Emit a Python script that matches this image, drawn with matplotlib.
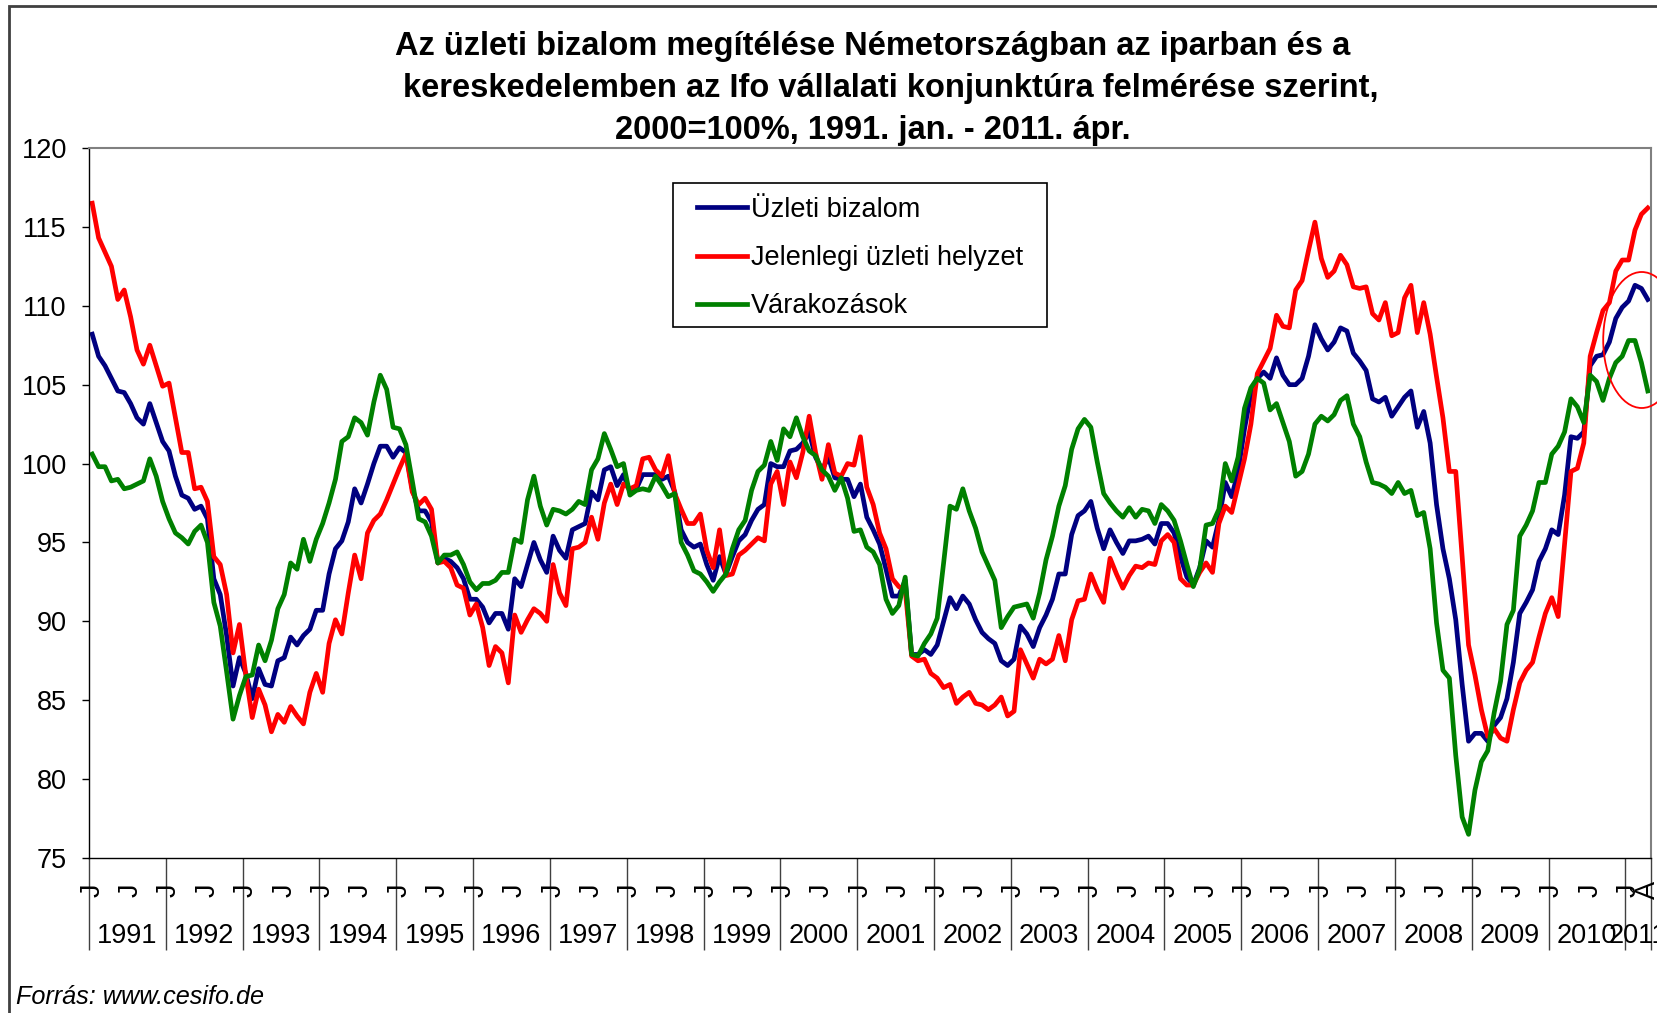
import numpy as np
import matplotlib
matplotlib.use('Agg')
import matplotlib.pyplot as plt
from matplotlib.patches import Ellipse, Rectangle
from matplotlib.transforms import blended_transform_factory

# ---------------- data (monthly, 1991 Jan - 2011 Apr) ----------------
evek = list(range(1991, 2012))
honap_betuk = ['J', '', '', '', '', '', 'J', '', '', '', '', '']  # Jan, Jul labels
utolso_honap_betu = 'Á'  # label of last month (April 2011)

uzleti_bizalom = [
    108.2, 106.8, 106.2, 105.4, 104.6, 104.5, 103.8, 102.9, 102.5, 103.8, 102.6, 101.4,
    100.8, 99.2, 98.0, 97.8, 97.1, 97.3, 96.5, 92.7, 91.7, 89.1, 85.9, 87.7,
    86.7, 85.1, 87.0, 86.0, 85.9, 87.5, 87.7, 89.0, 88.5, 89.1, 89.5, 90.7,
    90.7, 93.0, 94.6, 95.1, 96.3, 98.4, 97.5, 98.7, 100.0, 101.1, 101.1, 100.4,
    101.0, 100.7, 98.4, 97.0, 97.0, 96.3, 93.7, 94.0, 93.8, 93.4, 92.7, 91.4,
    91.4, 90.9, 89.9, 90.5, 90.5, 89.5, 92.7, 92.2, 93.6, 95.0, 93.9, 93.1,
    95.4, 94.5, 94.0, 95.8, 96.0, 96.2, 98.2, 97.7, 99.6, 99.8, 98.6, 99.3,
    98.2, 98.4, 99.3, 99.3, 99.3, 99.0, 99.2, 98.2, 95.8, 95.0, 94.7, 94.9,
    93.6, 92.6, 94.1, 93.0, 94.1, 95.1, 95.5, 96.4, 97.1, 97.4, 100.0, 99.8,
    99.8, 100.8, 100.9, 101.3, 102.0, 100.4, 99.6, 100.4, 99.1, 99.0, 99.0, 97.9,
    98.7, 96.6, 95.8, 94.9, 93.3, 91.6, 91.6, 92.6, 87.9, 87.9, 88.2, 87.9,
    88.5, 90.0, 91.5, 90.8, 91.6, 91.1, 90.1, 89.3, 88.9, 88.6, 87.5, 87.2,
    87.6, 89.7, 89.2, 88.4, 89.6, 90.4, 91.4, 93.0, 93.0, 95.5, 96.7, 97.0,
    97.6, 95.9, 94.6, 95.8, 95.0, 94.3, 95.1, 95.1, 95.2, 95.4, 94.9, 96.2,
    96.2, 95.6, 94.1, 92.8, 92.3, 93.4, 95.1, 94.7, 96.4, 98.8, 97.9, 99.5,
    102.2, 104.4, 105.4, 105.8, 105.4, 106.7, 105.6, 105.0, 105.0, 105.4, 106.8, 108.8,
    107.9, 107.2, 107.7, 108.6, 108.4, 107.0, 106.5, 105.9, 104.1, 103.9, 104.2, 103.0,
    103.6, 104.2, 104.6, 102.3, 103.3, 101.3, 97.4, 94.6, 92.7, 90.1, 86.0, 82.4,
    82.9, 82.9, 82.4, 83.4, 83.9, 85.1, 87.4, 90.5, 91.2, 92.0, 93.8, 94.6,
    95.8, 95.5, 98.0, 101.7, 101.6, 102.0, 106.2, 106.8, 106.9, 107.7, 109.2, 109.9,
    110.3, 111.3, 111.1, 110.4,
]

jelenlegi_helyzet = [
    116.5, 114.3, 113.4, 112.5, 110.4, 111.0, 109.3, 107.2, 106.3, 107.5, 106.2, 104.9,
    105.1, 102.9, 100.7, 100.7, 98.4, 98.5, 97.6, 94.1, 93.6, 91.7, 88.0, 89.8,
    86.6, 83.9, 85.7, 84.7, 83.0, 84.1, 83.6, 84.6, 84.0, 83.5, 85.5, 86.7,
    85.5, 88.6, 90.1, 89.2, 91.8, 94.2, 92.7, 95.6, 96.4, 96.8, 97.7, 98.7,
    99.7, 100.6, 98.2, 97.4, 97.8, 97.1, 93.7, 93.8, 93.4, 92.3, 92.1, 90.4,
    91.1, 89.6, 87.2, 88.4, 88.0, 86.1, 90.4, 89.3, 90.1, 90.8, 90.5, 90.0,
    93.6, 91.8, 91.0, 94.6, 94.7, 95.0, 96.6, 95.2, 97.5, 98.7, 97.4, 98.7,
    98.4, 98.6, 100.3, 100.4, 99.6, 99.2, 100.5, 98.1, 97.1, 96.2, 96.2, 96.8,
    94.5, 93.4, 95.8, 92.9, 93.0, 94.2, 94.5, 94.9, 95.3, 95.1, 98.7, 99.5,
    97.4, 100.1, 99.1, 100.7, 103.0, 100.7, 99.0, 101.2, 99.4, 99.2, 100.0, 99.9,
    101.7, 98.5, 97.4, 95.6, 94.6, 92.7, 92.2, 92.0, 87.8, 87.5, 87.6, 86.7,
    86.4, 85.8, 86.0, 84.8, 85.2, 85.5, 84.8, 84.7, 84.4, 84.7, 85.2, 84.0,
    84.3, 88.2, 87.3, 86.4, 87.6, 87.3, 87.6, 89.1, 87.5, 90.1, 91.3, 91.4,
    93.0, 92.0, 91.2, 94.0, 93.0, 92.1, 92.9, 93.5, 93.4, 93.7, 93.6, 95.1,
    95.5, 95.0, 92.7, 92.3, 92.3, 93.1, 93.7, 93.1, 96.2, 97.3, 96.9, 98.6,
    100.3, 102.5, 105.7, 106.5, 107.3, 109.4, 108.7, 108.6, 111.0, 111.6, 113.5, 115.3,
    113.0, 111.8, 112.2, 113.2, 112.6, 111.2, 111.1, 111.2, 109.5, 109.1, 110.2, 108.1,
    108.3, 110.5, 111.3, 108.3, 110.2, 108.2, 105.5, 102.9, 99.5, 99.5, 94.1, 88.5,
    86.6, 84.4, 82.7, 83.2, 82.6, 82.4, 84.4, 86.1, 86.9, 87.4, 89.0, 90.5,
    91.5, 90.3, 94.9, 99.5, 99.7, 101.3, 106.8, 108.3, 109.7, 110.2, 112.2, 112.9,
    112.9, 114.8, 115.8, 116.2,
]

varakozasok = [
    100.6, 99.8, 99.8, 98.9, 99.0, 98.4, 98.5, 98.7, 98.9, 100.3, 99.2, 97.6,
    96.5, 95.6, 95.3, 94.9, 95.7, 96.1, 95.0, 91.2, 89.7, 86.8, 83.8, 85.3,
    86.5, 86.6, 88.5, 87.5, 88.8, 90.8, 91.7, 93.7, 93.3, 95.2, 93.8, 95.2,
    96.2, 97.5, 99.0, 101.4, 101.7, 102.9, 102.6, 101.8, 103.9, 105.6, 104.7, 102.3,
    102.2, 101.2, 98.9, 96.5, 96.3, 95.4, 93.7, 94.2, 94.2, 94.4, 93.6, 92.5,
    92.0, 92.4, 92.4, 92.6, 93.1, 93.1, 95.2, 95.0, 97.7, 99.2, 97.3, 96.1,
    97.1, 97.0, 96.8, 97.1, 97.6, 97.4, 99.6, 100.3, 101.9, 100.9, 99.8, 100.0,
    98.0, 98.3, 98.4, 98.3, 99.2, 98.6, 97.9, 98.1, 95.0, 94.2, 93.2, 93.0,
    92.5, 91.9, 92.5, 93.0, 94.6, 95.8, 96.4, 98.3, 99.5, 99.9, 101.4, 100.2,
    102.2, 101.7, 102.9, 101.7, 100.8, 100.5, 99.6, 99.2, 98.3, 99.1, 97.8, 95.7,
    95.8, 94.7, 94.4, 93.6, 91.4, 90.5, 91.0, 92.8, 87.9, 87.8, 88.6, 89.2,
    90.2, 93.7, 97.3, 97.1, 98.4, 97.0, 95.9, 94.4, 93.5, 92.6, 89.6, 90.3,
    90.9, 91.0, 91.1, 90.2, 91.8, 93.9, 95.4, 97.3, 98.6, 100.9, 102.2, 102.8,
    102.3, 100.1, 98.1, 97.5, 97.0, 96.6, 97.2, 96.6, 97.1, 97.0, 96.2, 97.4,
    97.0, 96.4, 95.1, 93.6, 92.2, 93.3, 96.1, 96.2, 97.1, 100.0, 98.9, 100.4,
    103.5, 104.8, 105.4, 105.1, 103.4, 103.8, 102.6, 101.4, 99.2, 99.5, 100.6, 102.5,
    103.0, 102.7, 103.1, 104.0, 104.3, 102.5, 101.7, 100.1, 98.8, 98.7, 98.5, 98.1,
    98.8, 98.1, 98.3, 96.7, 96.9, 94.6, 89.9, 86.9, 86.4, 81.5, 77.6, 76.5,
    79.3, 81.1, 81.8, 84.2, 86.2, 89.8, 90.7, 95.4, 96.1, 97.0, 98.8, 98.8,
    100.6, 101.1, 102.0, 104.1, 103.6, 102.6, 105.6, 105.2, 104.0, 105.4, 106.4, 106.8,
    107.8, 107.8, 106.4, 104.6,
]

sorozat_nevek = ['Üzleti bizalom', 'Jelenlegi üzleti helyzet', 'Várakozások']
y_min, y_max, y_lepes = 75, 120, 5

# ---------------- figure ----------------
plt.rcParams['font.family'] = ['Liberation Sans', 'DejaVu Sans']
W, H = 1657, 1013
FS = 19.5
fig = plt.figure(figsize=(W / 100, H / 100), dpi=100)
fig.patch.set_facecolor('white')

L, R, T, B = 89, 1651, 148, 858
ax = fig.add_axes([L / W, 1 - B / H, (R - L) / W, (B - T) / H])

n = len(uzleti_bizalom)
x = np.arange(n)
ax.plot(x, uzleti_bizalom, color='#000080', lw=3.4, label=sorozat_nevek[0], solid_joinstyle='round')
ax.plot(x, jelenlegi_helyzet, color='#FF0000', lw=3.4, label=sorozat_nevek[1], solid_joinstyle='round')
ax.plot(x, varakozasok, color='#008000', lw=3.4, label=sorozat_nevek[2], solid_joinstyle='round')

ax.set_xlim(-0.5, n - 0.5)
ax.set_ylim(y_min, y_max)
ax.set_yticks(np.arange(y_min, y_max + 1, y_lepes))
ax.tick_params(axis='y', direction='out', length=5, width=1, labelsize=FS, pad=11, colors='black')

# year separators as long x ticks
hatarok = list(np.arange(-0.5, n, 12)) + [n - 0.5]
ax.set_xticks(hatarok)
ax.set_xticklabels([])
ax.tick_params(axis='x', direction='out', length=66, width=1, color='#404040')

for side in ['left', 'bottom']:
    ax.spines[side].set_color('black')
    ax.spines[side].set_linewidth(1)
for side in ['top', 'right']:
    ax.spines[side].set_color('#808080')
    ax.spines[side].set_linewidth(1.5)

# month letters and year labels
tr = blended_transform_factory(ax.transData, fig.transFigure)
for i in range(n):
    betu = honap_betuk[i % 12]
    if i == n - 1:
        betu = utolso_honap_betu
    if betu:
        ax.text(i, 1 - 890 / H, betu, transform=tr, rotation=90, ha='center', va='center',
                fontsize=FS, clip_on=False)
for k, ev in enumerate(evek):
    idx = [i for i in range(n) if i // 12 == k]
    ax.text(np.mean(idx), 1 - 936 / H, str(ev), transform=tr, ha='center', va='center',
            fontsize=FS, clip_on=False)

# title
cim = ['Az üzleti bizalom megítélése Németországban az iparban és a',
       'kereskedelemben az Ifo vállalati konjunktúra felmérése szerint,',
       '2000=100%, 1991. jan. - 2011. ápr.']
for sor, (cx, cy) in zip(cim, [(873, 46), (891, 89), (873, 130)]):
    fig.text(cx / W, 1 - cy / H, sor, ha='center', va='center', fontsize=23.5, fontweight='bold')

# legend
leg = ax.legend(loc='center left', bbox_to_anchor=(697 / W, 1 - 258 / H), bbox_transform=fig.transFigure,
                frameon=False, fontsize=FS, handlelength=1.85, handletextpad=0.15,
                labelspacing=0.83, borderpad=0, borderaxespad=0)
fig.add_artist(Rectangle((673 / W, 1 - 327 / H), (1047 - 673) / W, (327 - 183) / H,
                         transform=fig.transFigure, fill=False, edgecolor='black', lw=1.2))

# source
fig.text(16 / W, 1 - 997 / H, 'Forrás: www.cesifo.de', ha='left', va='center',
         fontsize=18.2, style='italic')

# highlight ellipse
fig.add_artist(Ellipse((1641.7 / W, 1 - 340 / H), 77 / W, 136 / H, transform=fig.transFigure,
                       fill=False, edgecolor='red', lw=1.3))

# chart-area border (top and left visible)
fig.add_artist(Rectangle((9 / W, -0.1), 1.2, 1.1 - 6 / H, transform=fig.transFigure,
                         fill=False, edgecolor='#404040', lw=2))

fig.savefig('out.png', dpi=100)
